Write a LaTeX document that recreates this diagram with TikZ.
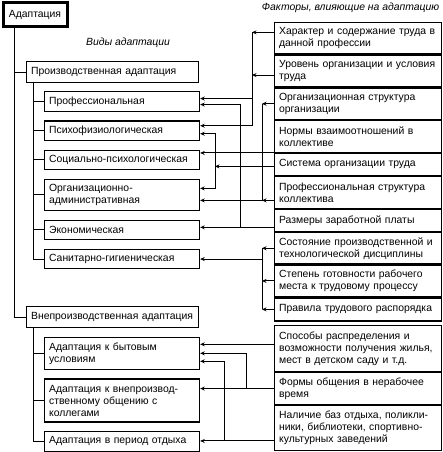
\documentclass[tikz,border=0pt]{standalone}
\usepackage{fontspec}
\setmainfont{Liberation Sans}
\usetikzlibrary{arrows.meta, positioning, calc}

\begin{document}
\begin{tikzpicture}[x=1pt, y=-1pt, font=\fontsize{10.4}{12}\selectfont,
  kind/.style={draw, line width=1.2pt, text width=146pt, inner xsep=4.5pt, inner ysep=1pt, align=left, minimum height=19.5pt},
  group/.style={draw, line width=1.2pt, text width=163pt, inner xsep=4.5pt, inner ysep=1pt, align=left, minimum height=21pt},
  factor/.style={draw, line width=1.2pt, text width=158pt, inner xsep=4.5pt, inner ysep=1pt, align=left, minimum height=31.5pt},
  factorline/.style={factor, minimum height=22pt},
  title/.style={font=\fontsize{10.4}{12}\selectfont\itshape},
  ->, >={Stealth[length=4.5pt, width=4pt]}, line width=1pt, node distance=8.5pt]
    \useasboundingbox (0,0) rectangle (443,452);
    % left column
    \node[draw, line width=3pt, minimum width=64pt, minimum height=24pt, anchor=north west] (root) at (1.5,1.5) {Адаптация};
    \node[title] (kinds) at (128,43) {Виды адаптации};
    \node[group, below right=32.5pt and 24.5pt of root.south west] (prod) {Производственная адаптация};
    \node[kind, below right=8pt and 18pt of prod.south west] (a1) {Профессиональная};
    \node[kind, below=of a1] (a2) {Психофизиологическая};
    \node[kind, below=of a2] (a3) {Социально-психологическая};
    \node[kind, below=of a3, minimum height=31pt] (a4) {Организационно-\\административная};
    \node[kind, below=of a4] (a5) {Экономическая};
    \node[kind, below=of a5] (a6) {Санитарно-гигиеническая};
    \node[group, anchor=north west] (nonprod) at (26,306) {Внепроизводственная адаптация};
    \node[kind, below right=8.5pt and 18pt of nonprod.south west, minimum height=32pt] (b1) {Адаптация к бытовым\\условиям};
    \node[kind, below=of b1, minimum height=43pt] (b2) {Адаптация к внепроизвод-\\ственному общению с\\коллегами};
    \node[kind, below=of b2] (b3) {Адаптация в период отдыха};
    % right column
    \node[title, anchor=east] (factors) at (443,8) {Факторы, влияющие на адаптацию};
    \node[factor, anchor=north west] (f1) at (274,22) {Характер и содержание труда в\\данной профессии};
    \node[factor, below=0pt of f1] (f2) {Уровень организации и условия\\труда};
    \node[factor, below=0pt of f2] (f3) {Организационная структура\\организации};
    \node[factor, below=0pt of f3] (f4) {Нормы взаимоотношений в\\коллективе};
    \node[factorline, below=0pt of f4] (f5) {Система организации труда};
    \node[factor, below=0pt of f5] (f6) {Профессиональная структура\\коллектива};
    \node[factorline, below=0pt of f6] (f7) {Размеры заработной платы};
    \node[factor, below=0pt of f7] (f8) {Состояние производственной и\\технологической дисциплины};
    \node[factor, below=0pt of f8] (f9) {Степень готовности рабочего\\места к трудовому процессу};
    \node[factorline, below=0pt of f9, minimum height=23pt] (f10) {Правила трудового распорядка};
    \node[factor, anchor=north west, minimum height=46pt] (g1) at (274,325) {Способы распределения и\\возможности получения жилья,\\мест в детском саду и т.д.};
    \node[factor, below=0pt of g1] (g2) {Формы общения в нерабочее\\время};
    \node[factor, below=0pt of g2, minimum height=45pt] (g3) {Наличие баз отдыха, поликли-\\ники, библиотеки, спортивно-\\культурных заведений};
    % buses
    \coordinate (v1) at (252,0);
    \coordinate (v2) at (240,0);
    \coordinate (v3) at (262,0);
    \coordinate (v4) at (215,0);
    \coordinate (w1) at (246,0);
    \coordinate (w2) at (224,0);
    % tree
    \draw[-] ([xshift=12.5pt]root.south west) |- (prod.west);
    \draw[-] ([xshift=12.5pt]root.south west) |- (nonprod.west);
    \draw[-] ([xshift=7pt]prod.south west) |- (a1.west);
    \draw[-] ([xshift=7pt]prod.south west) |- (a2.west);
    \draw[-] ([xshift=7pt]prod.south west) |- (a3.west);
    \draw[-] ([xshift=7pt]prod.south west) |- (a4.west);
    \draw[-] ([xshift=7pt]prod.south west) |- (a5.west);
    \draw[-] ([xshift=7pt]prod.south west) |- (a6.west);
    \draw[-] ([xshift=7pt]nonprod.south west) |- (b1.west);
    \draw[-] ([xshift=7pt]nonprod.south west) |- (b2.west);
    \draw[-] ([xshift=7pt]nonprod.south west) |- (b3.west);
    % factors to kinds
    \draw ([yshift=6pt]f1.west) -- ([yshift=6pt]f1.west -| v1);
    \draw ([yshift=-4pt]f2.west) -- ([yshift=-4pt]f2.west -| v1);
    \draw ([yshift=6pt]f1.west -| v1) |- ([yshift=5pt]a2.east);
    \draw ([yshift=3pt]a1.east -| v1) -- ([yshift=3pt]a1.east);
    \draw ([yshift=2.5pt]a5.east -| f7.west) -- ([yshift=2.5pt]a5.east);
    \draw ([yshift=2.5pt]a5.east -| v2) |- ([yshift=-3pt]a1.east);
    \draw (f3.west) -- (f3.west -| v3);
    \draw (f3.west -| v3) |- ([yshift=-5.5pt]a4.east);
    \draw ([yshift=-5.5pt]a4.east -| f6.west) -- ([yshift=-5.5pt]a4.east -| v3);
    \draw ([yshift=7pt]a3.east -| f4.west) -- ([yshift=7pt]a3.east);
    \draw ([yshift=-2pt]f5.west) -- ([yshift=-2pt]f5.west -| v4);
    \draw ([yshift=-2pt]f5.west -| v4) |- ([yshift=-3pt]a2.east);
    \draw ([yshift=-2pt]f5.west -| v4) |- ([yshift=6.5pt]a4.east);
    \draw (f8.west) -- (f8.west -| v3);
    \draw (f9.west) -- (f9.west -| v3);
    \draw (f10.west) -- (f10.west -| v3);
    \draw[-] (f8.west -| v3) -- (f10.west -| v3);
    \draw (a6.east -| v3) -- (a6.east);
    % factors to non-production kinds
    \draw ([yshift=9pt]b1.east -| g1.west) -- ([yshift=9pt]b1.east);
    \draw (g2.west) -- (g2.west -| b2.east);
    \draw (g2.west -| w1) |- (b1.east);
    \draw ([yshift=0.5pt]b3.east -| g3.west) -- ([yshift=0.5pt]b3.east);
    \draw ([yshift=0.5pt]b3.east -| w2) |- ([yshift=-8pt]b1.east);
\end{tikzpicture}
\end{document}
